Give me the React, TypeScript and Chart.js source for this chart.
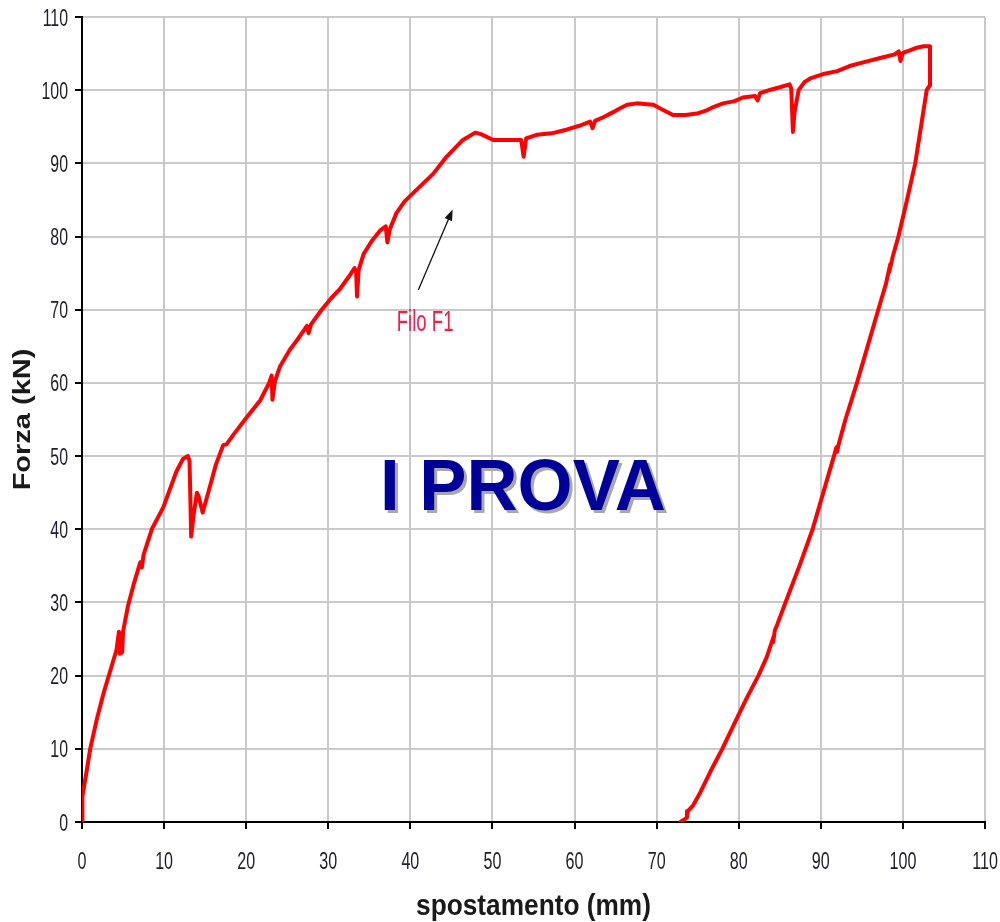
import React, { useEffect, useRef } from "react";
import { Chart, registerables } from "chart.js";

Chart.register(...registerables);

// Axis ranges (mm / kN)
const X_MIN = 0;
const X_MAX = 110;
const Y_MIN = 0;
const Y_MAX = 110;
const TICK_STEP = 10;

const xTitle = "spostamento (mm)";
const yTitle = "Forza (kN)";
const bigLabel = "I PROVA";
const noteLabel = "Filo F1";

// Loading branch: displacement (mm)
const loadX = [
  0, 0.05, 0.5, 1.0, 1.8, 2.6, 3.4, 4.2, 4.5, 4.6, 4.9, 5.0, 5.6, 6.3, 7.1, 7.3, 7.5,
  8.5, 9.9, 11.5, 12.3, 12.9, 13.1, 13.3, 13.6, 14.0, 14.2, 14.7, 15.5, 16.3, 17.2,
  17.6, 18.5, 20.0, 21.7, 22.8, 23.1, 23.2, 23.5, 24.1, 25.3, 26.3, 27.4, 27.6, 27.9,
  29.2, 30.3, 31.4, 32.5, 33.2, 33.4, 33.5, 33.7, 34.3, 35.3, 36.3, 37.0, 37.2, 37.5,
  38.3, 39.3, 40.4, 41.6, 42.8, 44.4, 46.4, 47.9, 48.6, 50.1, 51.5, 53.5, 53.8, 54.1,
  55.4, 57.2, 59.0, 60.5, 61.9, 62.2, 62.5, 63.5, 64.7, 65.5, 66.4, 67.6, 68.5, 69.6,
  70.8, 72.0, 73.5, 74.9, 76.0, 76.9, 78.1, 79.5, 80.5, 82.0, 82.3, 82.6, 84.0, 85.0,
  86.2, 86.4, 86.6, 86.8, 87.3, 88.0, 88.7, 90.3, 92.0, 93.5, 95.5, 97.6, 99.0, 99.5,
  99.7, 100.0, 101.0, 101.7, 102.5, 103.3, 103.3,
];
// Loading branch: force (kN)
const loadY = [
  0, 3.5, 6.5, 10, 14, 17.5, 20.5, 23.5, 26, 23, 23.2, 26, 29.5, 32.5, 35.5, 34.8, 36.5,
  40, 43, 47.9, 49.6, 50, 49.3, 39, 42, 45, 44.5, 42.3, 45.5, 48.8, 51.5,
  51.6, 53, 55.2, 57.6, 60, 61, 57.7, 60.2, 62.2, 64.5, 66, 67.8, 66.8, 68,
  70, 71.5, 72.8, 74.5, 75.7, 75, 71.8, 75.4, 77.6, 79.4, 80.8, 81.4, 79.2, 81,
  83.2, 84.8, 86, 87.3, 88.6, 90.9, 93.2, 94.2, 94.0, 93.2, 93.2, 93.2, 90.9, 93.4,
  93.9, 94.1, 94.6, 95.1, 95.7, 94.8, 95.8, 96.3, 97.0, 97.5, 98.0, 98.2, 98.1, 98.0,
  97.3, 96.6, 96.6, 96.8, 97.2, 97.7, 98.2, 98.5, 99.0, 99.2, 98.6, 99.6, 100.1, 100.4,
  100.8, 100.2, 94.3, 97, 100, 101.1, 101.6, 102.2, 102.6, 103.3, 103.9, 104.5, 104.9, 105.3,
  104.0, 105.1, 105.5, 105.8, 106, 106, 100.7,
];

// Unloading branch: displacement (mm)
const unloadX = [
  103.3, 102.9, 102.2, 101.5, 100.5, 99.45, 98.75, 98.35, 98.45, 97.95, 97.0, 95.7,
  94.4, 93.0, 92.1, 92.0, 91.9, 91.6, 90.3, 89.0, 87.4, 85.8, 84.7, 84.4, 84.2, 84.3,
  83.4, 82.4, 81.0, 79.7, 78.0, 76.6, 75.3, 74.4, 73.8, 73.7, 73.3, 72.9,
];
// Unloading branch: force (kN)
const unloadY = [
  100.7, 100, 95, 90, 85, 80, 77.2, 75.2, 76.2, 73.6, 70, 65,
  60, 55, 51.3, 50.6, 51.2, 50, 45, 40, 35, 30.3, 27, 26.2, 24.6, 25.5,
  22.5, 20, 17, 14, 10, 7, 4, 2.2, 1.5, 0.6, 0.3, 0,
];

// Annotation anchors in data units
const noteAt = [41.8, 67.1];
const arrowFrom = [40.97, 72.7];
const arrowTo = [45.15, 83.7];
const bigLabelAt = [53.7, 42.6];

const toPoints = (xs: number[], ys: number[]) => xs.map((x, i) => ({ x, y: ys[i] }));

function drawScaledText(
  ctx: CanvasRenderingContext2D,
  text: string,
  x: number,
  y: number,
  sx: number,
  sy: number,
  rot = 0
) {
  ctx.save();
  ctx.translate(x, y);
  if (rot) ctx.rotate(rot);
  ctx.scale(sx, sy);
  ctx.fillText(text, 0, 0);
  ctx.restore();
}

const overlayPlugin = {
  id: "overlay",
  afterDraw(chart: any) {
    const ctx: CanvasRenderingContext2D = chart.ctx;
    const xs = chart.scales.x;
    const ys = chart.scales.y;
    const area = chart.chartArea;
    ctx.save();

    // tick labels
    ctx.fillStyle = "#1d1d2b";
    ctx.font = "23px 'Liberation Sans', Arial, sans-serif";
    ctx.textBaseline = "alphabetic";
    ctx.textAlign = "right";
    ys.ticks.forEach((t: any) => {
      const py = ys.getPixelForValue(t.value);
      drawScaledText(ctx, String(t.value), area.left - 14, py + 8.5, 0.69, 1);
    });
    ctx.textAlign = "center";
    xs.ticks.forEach((t: any) => {
      const px = xs.getPixelForValue(t.value);
      drawScaledText(ctx, String(t.value), px, area.bottom + 47, 0.7, 1);
    });

    // axis titles
    ctx.fillStyle = "#1a1a1a";
    ctx.font = "bold 30px 'Liberation Sans', Arial, sans-serif";
    ctx.textAlign = "center";
    drawScaledText(ctx, xTitle, (area.left + area.right) / 2, area.bottom + 93, 0.875, 1);
    ctx.font = "bold 23px 'Liberation Sans', Arial, sans-serif";
    drawScaledText(ctx, yTitle, 30, (area.top + area.bottom) / 2, 1.26, 1, -Math.PI / 2);

    // note label
    ctx.fillStyle = "#ff1a40";
    ctx.font = "30px 'Liberation Sans', Arial, sans-serif";
    drawScaledText(
      ctx,
      noteLabel,
      xs.getPixelForValue(noteAt[0]),
      ys.getPixelForValue(noteAt[1]),
      0.62,
      1
    );

    // arrow
    const ax0 = xs.getPixelForValue(arrowFrom[0]);
    const ay0 = ys.getPixelForValue(arrowFrom[1]);
    const ax1 = xs.getPixelForValue(arrowTo[0]);
    const ay1 = ys.getPixelForValue(arrowTo[1]);
    const ang = Math.atan2(ay1 - ay0, ax1 - ax0);
    const headLen = 11;
    const headW = 4;
    ctx.strokeStyle = "#111";
    ctx.lineWidth = 1.3;
    ctx.beginPath();
    ctx.moveTo(ax0, ay0);
    ctx.lineTo(ax1 - Math.cos(ang) * headLen * 0.8, ay1 - Math.sin(ang) * headLen * 0.8);
    ctx.stroke();
    ctx.fillStyle = "#111";
    ctx.beginPath();
    ctx.moveTo(ax1, ay1);
    ctx.lineTo(
      ax1 - Math.cos(ang) * headLen + Math.sin(ang) * headW,
      ay1 - Math.sin(ang) * headLen - Math.cos(ang) * headW
    );
    ctx.lineTo(
      ax1 - Math.cos(ang) * headLen - Math.sin(ang) * headW,
      ay1 - Math.sin(ang) * headLen + Math.cos(ang) * headW
    );
    ctx.closePath();
    ctx.fill();

    // big label with shadow
    const bx = xs.getPixelForValue(bigLabelAt[0]);
    const by = ys.getPixelForValue(bigLabelAt[1]);
    ctx.font = "bold 73px 'Liberation Sans', Arial, sans-serif";
    ctx.textAlign = "center";
    ctx.fillStyle = "#a8a8a8";
    drawScaledText(ctx, bigLabel, bx + 3, by + 3, 0.97, 1);
    ctx.fillStyle = "#000099";
    drawScaledText(ctx, bigLabel, bx, by, 0.97, 1);

    ctx.restore();
  },
};

const gridColor = (c: any) => (c.tick && c.tick.value === 0 ? "rgba(0,0,0,0)" : "#c9c9c9");

export default function App() {
  const ref = useRef<HTMLCanvasElement | null>(null);

  useEffect(() => {
    if (!ref.current) return;
    const lineStyle = {
      showLine: true,
      borderColor: "#ff0000",
      backgroundColor: "#ff0000",
      borderWidth: 4,
      pointRadius: 0,
      tension: 0,
      fill: false,
      borderJoinStyle: "round" as const,
      borderCapStyle: "round" as const,
    };
    const chart = new Chart(ref.current, {
      type: "scatter",
      data: {
        datasets: [
          { label: "carico", data: toPoints(loadX, loadY), ...lineStyle },
          { label: "scarico", data: toPoints(unloadX, unloadY), ...lineStyle },
        ],
      },
      options: {
        responsive: false,
        animation: false,
        layout: { padding: { left: 0, top: 17, right: 15, bottom: 0 } },
        plugins: {
          legend: { display: false },
          tooltip: { enabled: false },
          title: { display: false },
        },
        scales: {
          x: {
            type: "linear",
            min: X_MIN,
            max: X_MAX,
            ticks: { stepSize: TICK_STEP, display: false },
            grid: {
              color: gridColor,
              lineWidth: 2,
              tickColor: "#000",
              tickWidth: 2,
              tickLength: 7,
              drawTicks: true,
            },
            border: { color: "#000", width: 2 },
            afterFit: (s: any) => {
              s.height = 100;
            },
          },
          y: {
            type: "linear",
            min: Y_MIN,
            max: Y_MAX,
            ticks: { stepSize: TICK_STEP, display: false },
            grid: {
              color: gridColor,
              lineWidth: 2,
              tickColor: "#000",
              tickWidth: 2,
              tickLength: 7,
              drawTicks: true,
            },
            border: { color: "#000", width: 2 },
            afterFit: (s: any) => {
              s.width = 82;
            },
          },
        },
      },
      plugins: [overlayPlugin],
    });
    return () => chart.destroy();
  }, []);

  return (
    <div style={{ position: "fixed", left: 0, top: 0, width: 1000, height: 922, background: "#fff" }}>
      <canvas ref={ref} width={1000} height={922} style={{ display: "block" }} />
    </div>
  );
}
